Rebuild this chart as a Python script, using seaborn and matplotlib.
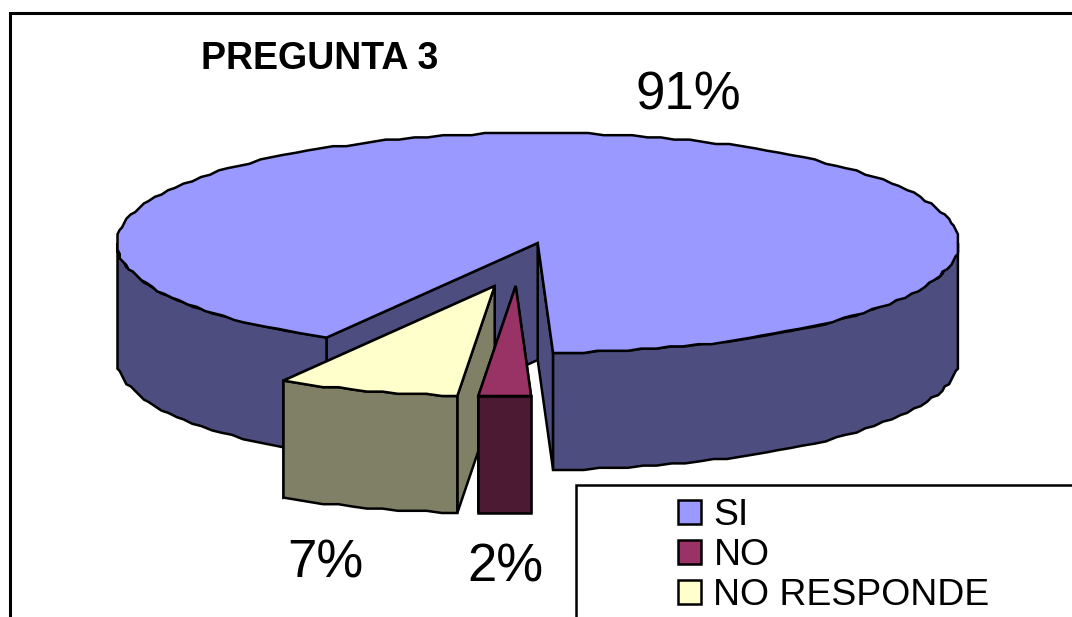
import numpy as np
import matplotlib
matplotlib.use("Agg")
import matplotlib.pyplot as plt
from matplotlib.patches import Patch
import seaborn as sns

labels = ["SI", "NO", "NO RESPONDE"]
values = [91, 2, 7]
top_colors = ["#9999FF", "#993366", "#FFFFCC"]

# pie geometry, in pixels of the picture
cx, cy = 537.7, 243
rx, ry = 421, 110
depth = 117
start = 120.2
explode = [(0, 0), (-22, 43), (-43, 43)]
label_pos = [(688, 110), (505, 581), (325, 577)]
LW = 1.8
# the original rim is stepped, coarse device coordinates
SNAP = 2.2
STEP = 2

sns.set_theme(style="white")
plt.rcParams["font.family"] = ["Liberation Sans", "DejaVu Sans"]
palette = sns.color_palette(top_colors)


def arc(a, b, dx, dy):
    t = np.radians(np.linspace(a, b, max(int(abs(b - a) / STEP), 1) + 1))
    x = np.round(rx * np.cos(t) / SNAP) * SNAP
    y = np.round(ry * np.sin(t) / SNAP) * SNAP
    return cx + dx + x, cy + dy + y


def poly(ax, xs, ys, color):
    ax.fill(xs, ys, facecolor=color, edgecolor="black", lw=LW, joinstyle="miter")


def draw_slice(ax, a, b, dx, dy, color):
    side = tuple(c * 0.5 for c in color)
    # cut walls, the far one first
    for t in (b, a):
        x, y = arc(t, t, dx, dy)
        px, py = cx + dx, cy + dy
        poly(ax, [px, x[0], x[0], px], [py, y[0], y[0] + depth, py + depth], side)
    # outer rim, only the part that faces the viewer
    for k in (0, 360):
        lo, hi = max(a, k), min(b, k + 180)
        if hi > lo:
            x, y = arc(lo, hi, dx, dy)
            poly(ax, np.r_[x, x[::-1]], np.r_[y, y[::-1] + depth], side)
    # top face
    x, y = arc(a, b, dx, dy)
    poly(ax, np.r_[cx + dx, x], np.r_[cy + dy, y], color)


fig = plt.figure(figsize=(10.72, 6.17), dpi=100)
ax = fig.add_axes([0, 0, 1, 1])
ax.set_xlim(0, 1072)
ax.set_ylim(617, 0)
ax.axis("off")

# chart frame, cut by the edge of the picture
ax.plot([9.5, 9.5, 1072], [617, 13, 13], color="black", lw=2.2, solid_joinstyle="miter")

sweeps = np.array(values) * 3.6
ends = start + np.cumsum(sweeps)
starts = ends - sweeps
# SI first, then the two pulled out slices from back to front
for i in (0, 2, 1):
    a, b = starts[i], ends[i]
    draw_slice(ax, a, b, explode[i][0], explode[i][1], palette[i])
    ax.text(label_pos[i][0], label_pos[i][1], f"{values[i]}%", fontsize=38,
            ha="center", va="baseline", color="black")

ax.text(201, 69, "PREGUNTA 3", fontsize=27, fontweight="bold", ha="left",
        va="baseline", color="black")

# legend box
ax.plot([576, 576, 1072], [617, 485, 485], color="black", lw=1.8, solid_joinstyle="miter")
handles = [Patch(facecolor=c, edgecolor="black", lw=1.8) for c in palette]
ax.legend(handles, labels, loc="upper left", bbox_to_anchor=(678, 498),
          bbox_transform=ax.transData, frameon=False, fontsize=26.9,
          labelcolor="black", handlelength=0.62, handleheight=0.62,
          handletextpad=0.33, labelspacing=0.14, borderpad=0, borderaxespad=0)

fig.savefig("out.png", dpi=100)
